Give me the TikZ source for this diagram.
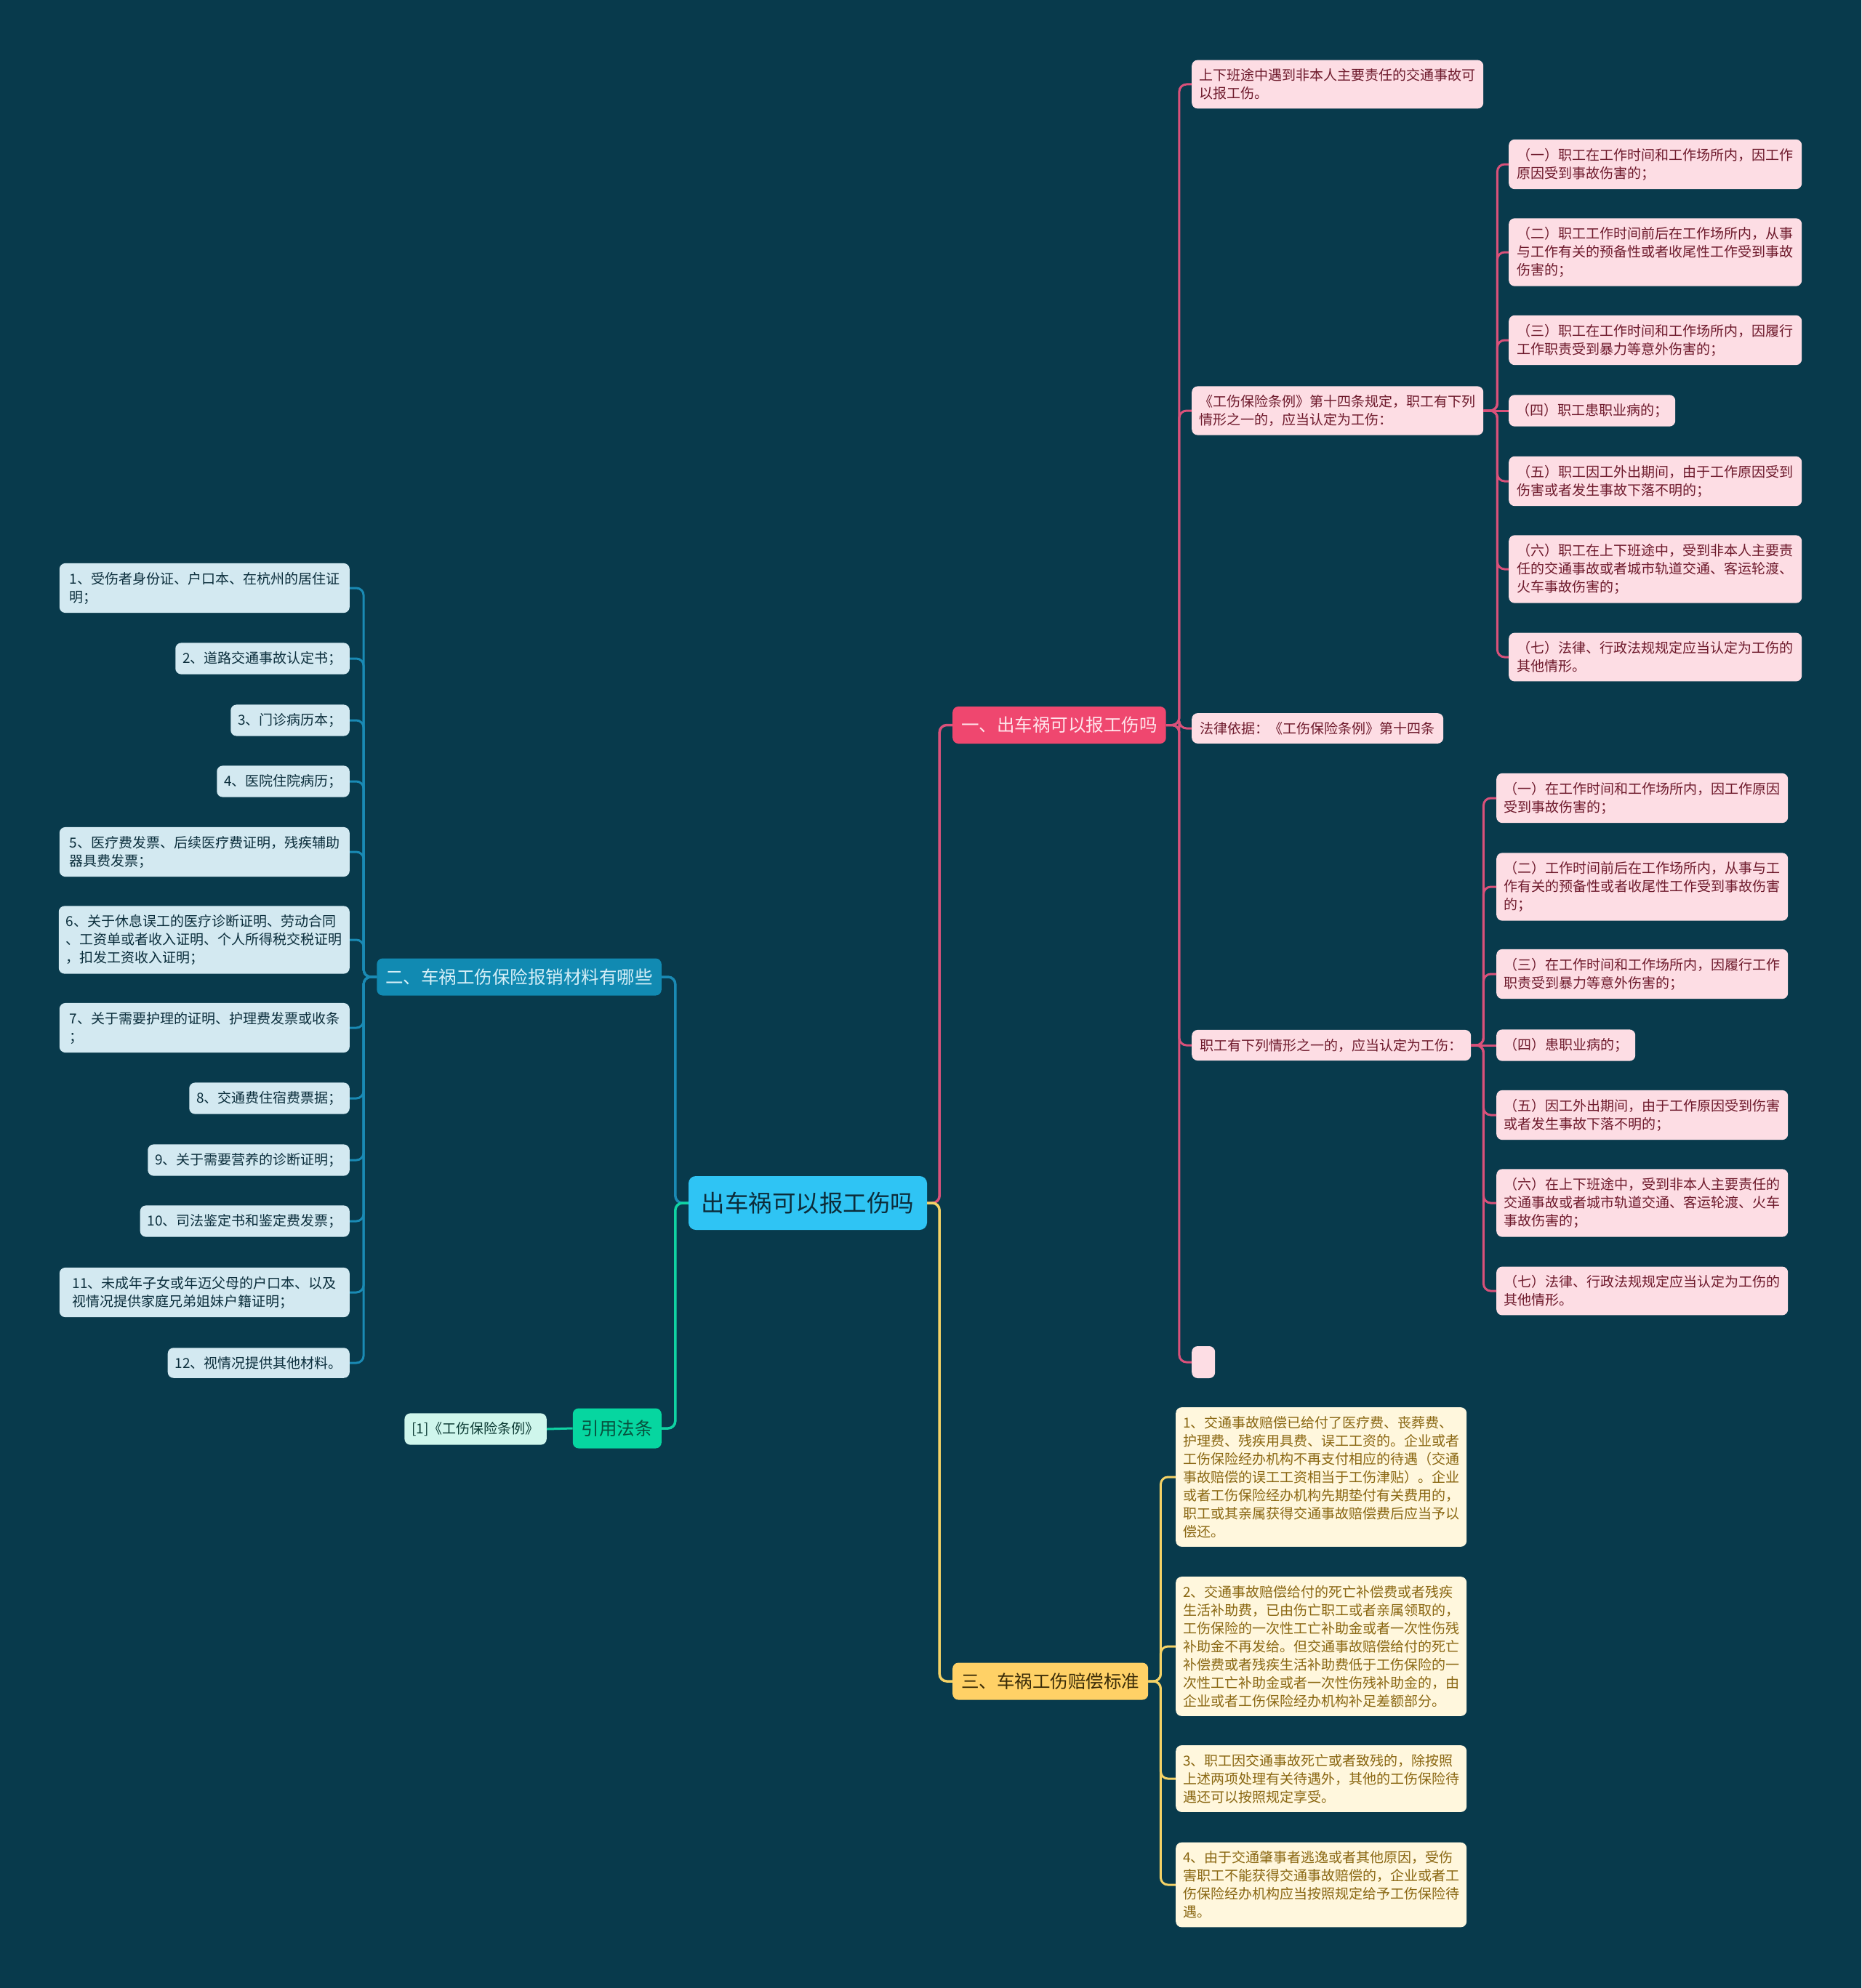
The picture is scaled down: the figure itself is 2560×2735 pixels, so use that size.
\documentclass[tikz,border=0pt]{standalone}
\usepackage{fontspec}
\setmainfont{Noto Sans CJK SC}
\definecolor{bg}{HTML}{083A4C}
\definecolor{rootF}{HTML}{2FC4F4}
\definecolor{rootT}{HTML}{0C2C3A}
\definecolor{bAF}{HTML}{EF476F}
\definecolor{bAT}{HTML}{FFE4EB}
\definecolor{pkF}{HTML}{FDDDE4}
\definecolor{pkT}{HTML}{6E1A2C}
\definecolor{lpk}{HTML}{D9517A}
\definecolor{bBF}{HTML}{118AB2}
\definecolor{bBT}{HTML}{D5EFF8}
\definecolor{blF}{HTML}{D3E9F1}
\definecolor{blT}{HTML}{0B2E3C}
\definecolor{lbl}{HTML}{1A8AB4}
\definecolor{bCF}{HTML}{FFD166}
\definecolor{bCT}{HTML}{3A2C08}
\definecolor{ylF}{HTML}{FFF7DD}
\definecolor{ylT}{HTML}{8A6712}
\definecolor{lyl}{HTML}{F4D266}
\definecolor{bDF}{HTML}{06D6A0}
\definecolor{bDT}{HTML}{07503D}
\definecolor{grF}{HTML}{CFF6EC}
\definecolor{grT}{HTML}{0B3A33}
\definecolor{lgr}{HTML}{10D3A3}
\tikzset{
  base/.style={rounded corners=8pt, inner xsep=10pt, inner ysep=12pt, align=left, font=\fontsize{19}{25}\selectfont},
  pk/.style={base, fill=pkF, text=pkT},
  bl/.style={base, fill=blF, text=blT},
  yl/.style={base, fill=ylF, text=ylT},
  gr/.style={base, fill=grF, text=grT},
  branch/.style={rounded corners=8pt, inner xsep=12pt, minimum height=51pt, font=\fontsize{24.5}{30}\selectfont},
  rootbox/.style={rounded corners=10pt, fill=rootF, text=rootT, minimum width=328pt, minimum height=74pt, font=\fontsize{32.5}{38}\selectfont},
  ln/.style={line width=3pt, rounded corners=10pt},
  lnw/.style={line width=3.5pt, rounded corners=10pt},
}
\begin{document}
\begin{tikzpicture}[x=1pt,y=-1pt]
\fill[bg] (0,0) rectangle (2560,2735);
\useasboundingbox (0,0) rectangle (2560,2735);

% root and branches
\node[rootbox] (root) at (1111,1655) {出车祸可以报工伤吗};
\node[branch, fill=bAF, text=bAT, anchor=west] (b1) at (1310,997.5) {一、出车祸可以报工伤吗};
\node[branch, fill=bBF, text=bBT, anchor=east] (b2) at (910,1344) {二、车祸工伤保险报销材料有哪些};
\node[branch, fill=bCF, text=bCT, anchor=west] (b3) at (1310,2313) {三、车祸工伤赔偿标准};
\node[branch, fill=bDF, text=bDT, anchor=east, minimum height=55pt] (b4) at (910,1965) {引用法条};

% branch 1 children
\node[pk, anchor=west, minimum width=401pt] (c1a) at (1639,116) {上下班途中遇到非本人主要责任的交通事故可\\以报工伤。};
\node[pk, anchor=west, minimum width=401pt] (c1b) at (1639,565) {《工伤保险条例》第十四条规定，职工有下列\\情形之一的，应当认定为工伤：};
\node[pk, anchor=west, minimum width=346pt] (c1c) at (1639,1002) {法律依据：《工伤保险条例》第十四条};
\node[pk, anchor=west, minimum width=384pt] (c1d) at (1639,1438) {职工有下列情形之一的，应当认定为工伤：};
\node[pk, anchor=west, minimum width=32pt, minimum height=44pt] (c1e) at (1639,1874) {};

% c1b children
\node[pk, anchor=west, minimum width=403pt] (p1) at (2075,226) {（一）职工在工作时间和工作场所内，因工作\\原因受到事故伤害的；};
\node[pk, anchor=west, minimum width=403pt] (p2) at (2075,347) {（二）职工工作时间前后在工作场所内，从事\\与工作有关的预备性或者收尾性工作受到事故\\伤害的；};
\node[pk, anchor=west, minimum width=403pt] (p3) at (2075,468) {（三）职工在工作时间和工作场所内，因履行\\工作职责受到暴力等意外伤害的；};
\node[pk, anchor=west] (p4) at (2075,565) {（四）职工患职业病的；};
\node[pk, anchor=west, minimum width=403pt] (p5) at (2075,662) {（五）职工因工外出期间，由于工作原因受到\\伤害或者发生事故下落不明的；};
\node[pk, anchor=west, minimum width=403pt] (p6) at (2075,783) {（六）职工在上下班途中，受到非本人主要责\\任的交通事故或者城市轨道交通、客运轮渡、\\火车事故伤害的；};
\node[pk, anchor=west, minimum width=403pt] (p7) at (2075,904) {（七）法律、行政法规规定应当认定为工伤的\\其他情形。};

% c1d children
\node[pk, anchor=west, minimum width=401pt] (q1) at (2058,1098) {（一）在工作时间和工作场所内，因工作原因\\受到事故伤害的；};
\node[pk, anchor=west, minimum width=401pt] (q2) at (2058,1220) {（二）工作时间前后在工作场所内，从事与工\\作有关的预备性或者收尾性工作受到事故伤害\\的；};
\node[pk, anchor=west, minimum width=401pt] (q3) at (2058,1340) {（三）在工作时间和工作场所内，因履行工作\\职责受到暴力等意外伤害的；};
\node[pk, anchor=west] (q4) at (2058,1438) {（四）患职业病的；};
\node[pk, anchor=west, minimum width=401pt] (q5) at (2058,1534) {（五）因工外出期间，由于工作原因受到伤害\\或者发生事故下落不明的；};
\node[pk, anchor=west, minimum width=401pt] (q6) at (2058,1655) {（六）在上下班途中，受到非本人主要责任的\\交通事故或者城市轨道交通、客运轮渡、火车\\事故伤害的；};
\node[pk, anchor=west, minimum width=401pt] (q7) at (2058,1776) {（七）法律、行政法规规定应当认定为工伤的\\其他情形。};

% branch 2 children
\node[bl, anchor=east, minimum width=399pt] (m1) at (481,809) {1、受伤者身份证、户口本、在杭州的居住证\\明；};
\node[bl, anchor=east] (m2) at (481,906) {2、道路交通事故认定书；};
\node[bl, anchor=east] (m3) at (481,991) {3、门诊病历本；};
\node[bl, anchor=east] (m4) at (481,1075) {4、医院住院病历；};
\node[bl, anchor=east, minimum width=399pt] (m5) at (481,1172) {5、医疗费发票、后续医疗费证明，残疾辅助\\器具费发票；};
\node[bl, anchor=east, minimum width=399pt] (m6) at (481,1293) {6、关于休息误工的医疗诊断证明、劳动合同\\、工资单或者收入证明、个人所得税交税证明\\，扣发工资收入证明；};
\node[bl, anchor=east, minimum width=399pt] (m7) at (481,1414) {7、关于需要护理的证明、护理费发票或收条\\；};
\node[bl, anchor=east] (m8) at (481,1511) {8、交通费住宿费票据；};
\node[bl, anchor=east] (m9) at (481,1596) {9、关于需要营养的诊断证明；};
\node[bl, anchor=east] (m10) at (481,1680) {10、司法鉴定书和鉴定费发票；};
\node[bl, anchor=east, minimum width=399pt] (m11) at (481,1778) {11、未成年子女或年迈父母的户口本、以及\\视情况提供家庭兄弟姐妹户籍证明；};
\node[bl, anchor=east] (m12) at (481,1875) {12、视情况提供其他材料。};

% branch 4 child
\node[gr, anchor=east] (g1) at (752,1966) {[1]《工伤保险条例》};

% branch 3 children
\node[yl, anchor=west, minimum width=399pt] (y1) at (1617,2032) {1、交通事故赔偿已给付了医疗费、丧葬费、\\护理费、残疾用具费、误工工资的。企业或者\\工伤保险经办机构不再支付相应的待遇（交通\\事故赔偿的误工工资相当于工伤津贴）。企业\\或者工伤保险经办机构先期垫付有关费用的，\\职工或其亲属获得交通事故赔偿费后应当予以\\偿还。};
\node[yl, anchor=west, minimum width=399pt] (y2) at (1617,2265) {2、交通事故赔偿给付的死亡补偿费或者残疾\\生活补助费，已由伤亡职工或者亲属领取的，\\工伤保险的一次性工亡补助金或者一次性伤残\\补助金不再发给。但交通事故赔偿给付的死亡\\补偿费或者残疾生活补助费低于工伤保险的一\\次性工亡补助金或者一次性伤残补助金的，由\\企业或者工伤保险经办机构补足差额部分。};
\node[yl, anchor=west, minimum width=399pt] (y3) at (1617,2447) {3、职工因交通事故死亡或者致残的，除按照\\上述两项处理有关待遇外，其他的工伤保险待\\遇还可以按照规定享受。};
\node[yl, anchor=west, minimum width=399pt] (y4) at (1617,2593) {4、由于交通肇事者逃逸或者其他原因，受伤\\害职工不能获得交通事故赔偿的，企业或者工\\伤保险经办机构应当按照规定给予工伤保险待\\遇。};

% connectors: root level
\draw[lnw, lpk] (root.east) -- ++(17,0) |- (b1.west);
\draw[lnw, lyl] (root.east) -- ++(17,0) |- (b3.west);
\draw[lnw, lbl] (root.west) -- ++(-18,0) |- (b2.east);
\draw[lnw, lgr] (root.west) -- ++(-18,0) |- (b4.east);

% branch 1
\foreach \n in {c1a,c1b,c1c,c1d,c1e}
  \draw[ln, lpk] (b1.east) -- ++(18,0) |- (\n.west);
\foreach \n in {p1,p2,p3,p5,p6,p7}
  \draw[ln, lpk] (c1b.east) -- ++(19,0) |- (\n.west);
\draw[ln, lpk] (c1b.east) -- (p4.west);
\foreach \n in {q1,q2,q3,q5,q6,q7}
  \draw[ln, lpk] (c1d.east) -- ++(17,0) |- (\n.west);
\draw[ln, lpk] (c1d.east) -- (q4.west);

% branch 2
\foreach \n in {m1,m2,m3,m4,m5,m6,m7,m8,m9,m10,m11,m12}
  \draw[ln, lbl] (b2.west) -- ++(-18,0) |- (\n.east);

% branch 3
\foreach \n in {y1,y2,y3,y4}
  \draw[ln, lyl] (b3.east) -- ++(17,0) |- (\n.west);

% branch 4
\draw[ln, lgr] (b4.west) -- (g1.east);
\end{tikzpicture}
\end{document}
